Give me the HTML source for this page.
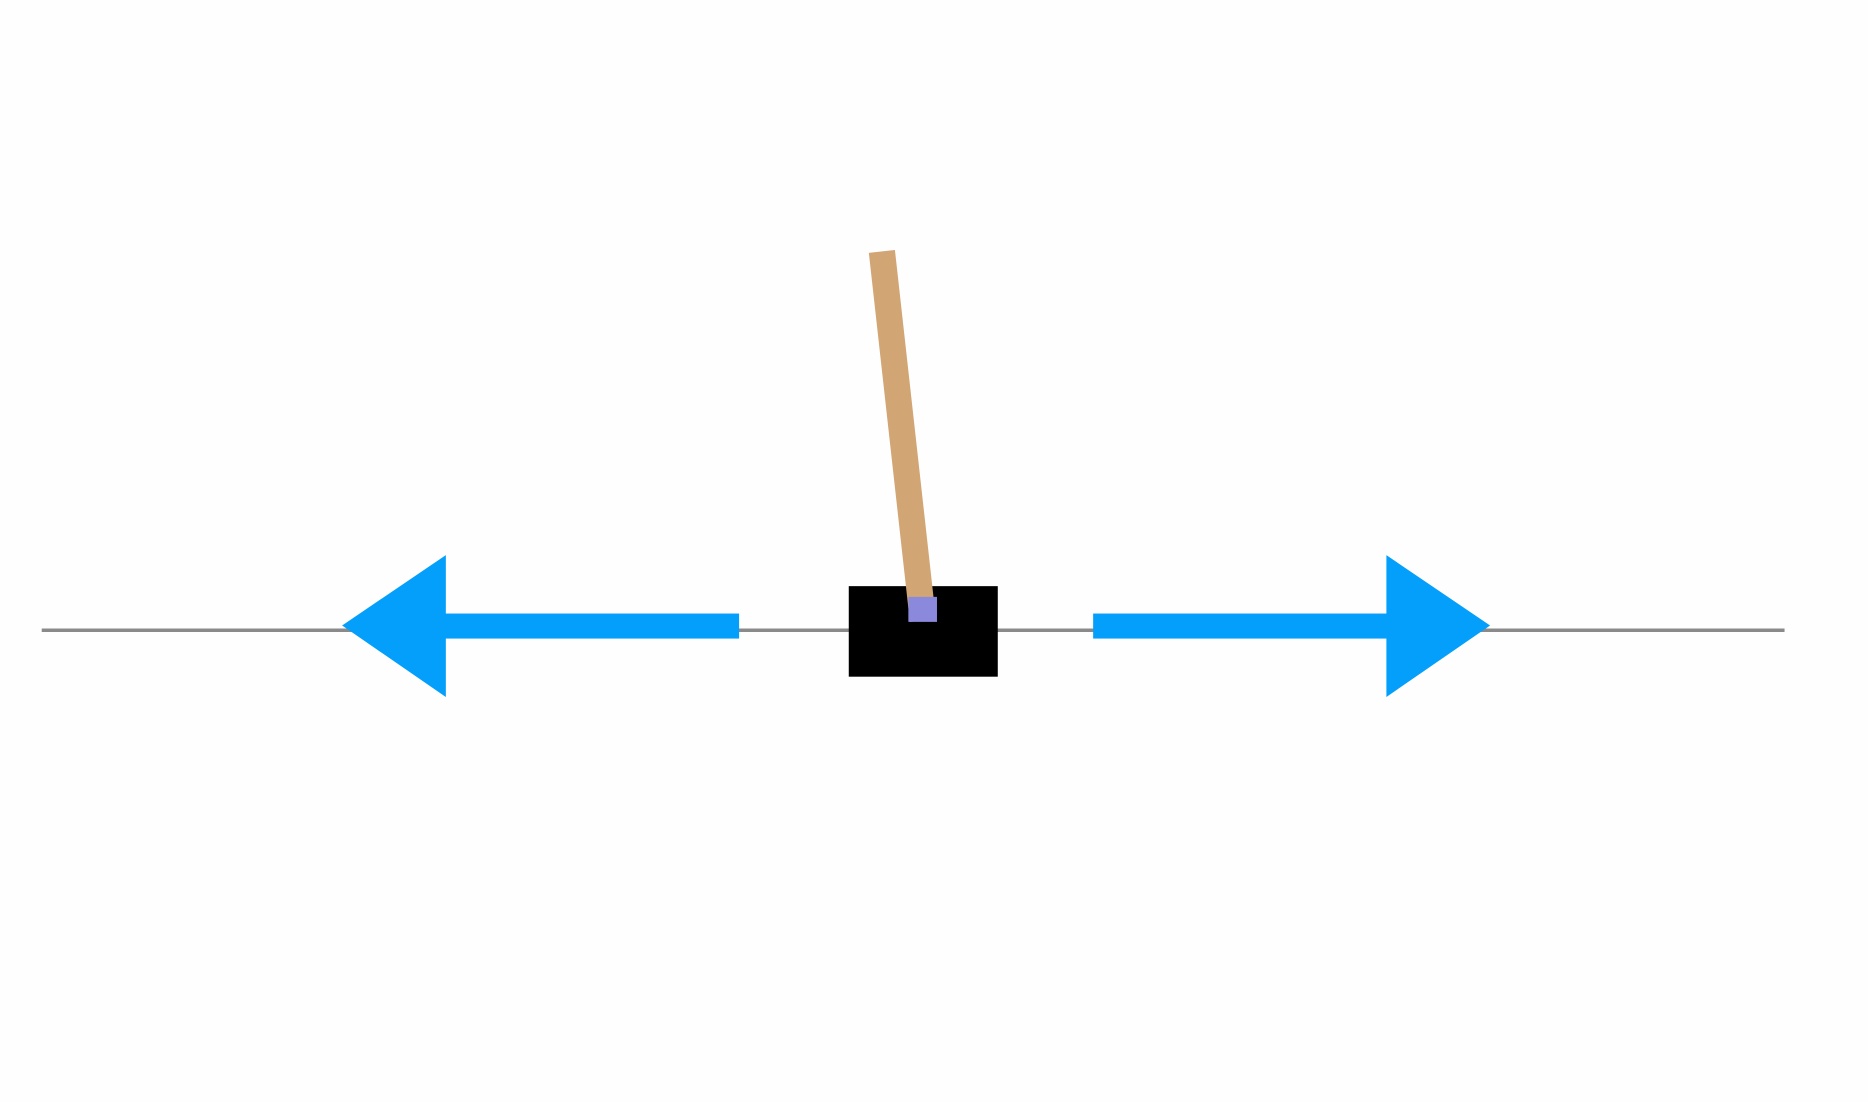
<!DOCTYPE html>
<html><head><meta charset="utf-8"><style>
html,body{margin:0;padding:0;background:#fff;width:1868px;height:1102px;overflow:hidden}
svg{display:block}
</style></head><body>
<svg width="1868" height="1102" viewBox="0 0 1567 925" preserveAspectRatio="none">
<rect x="0" y="0" width="1567" height="925" fill="#fefefe"/>
<line x1="35" y1="529" x2="1497" y2="529" stroke="#8a8a8a" stroke-width="3"/>
<rect x="712" y="492" width="125" height="76" fill="#000"/>
<line x1="741" y1="222" x2="773" y2="510" stroke="#d1a574" stroke-width="22" stroke-linecap="square"/>
<rect x="762" y="501" width="24" height="21" fill="#8b89db"/>
<g fill="#039ffb">
<rect x="372" y="515" width="248" height="21"/>
<polygon points="287,525 374,466 374,585"/>
</g>
<g fill="#039ffb">
<rect x="917" y="515" width="248" height="21"/>
<polygon points="1250,525 1163,466 1163,585"/>
</g>
</svg>
</body></html>
